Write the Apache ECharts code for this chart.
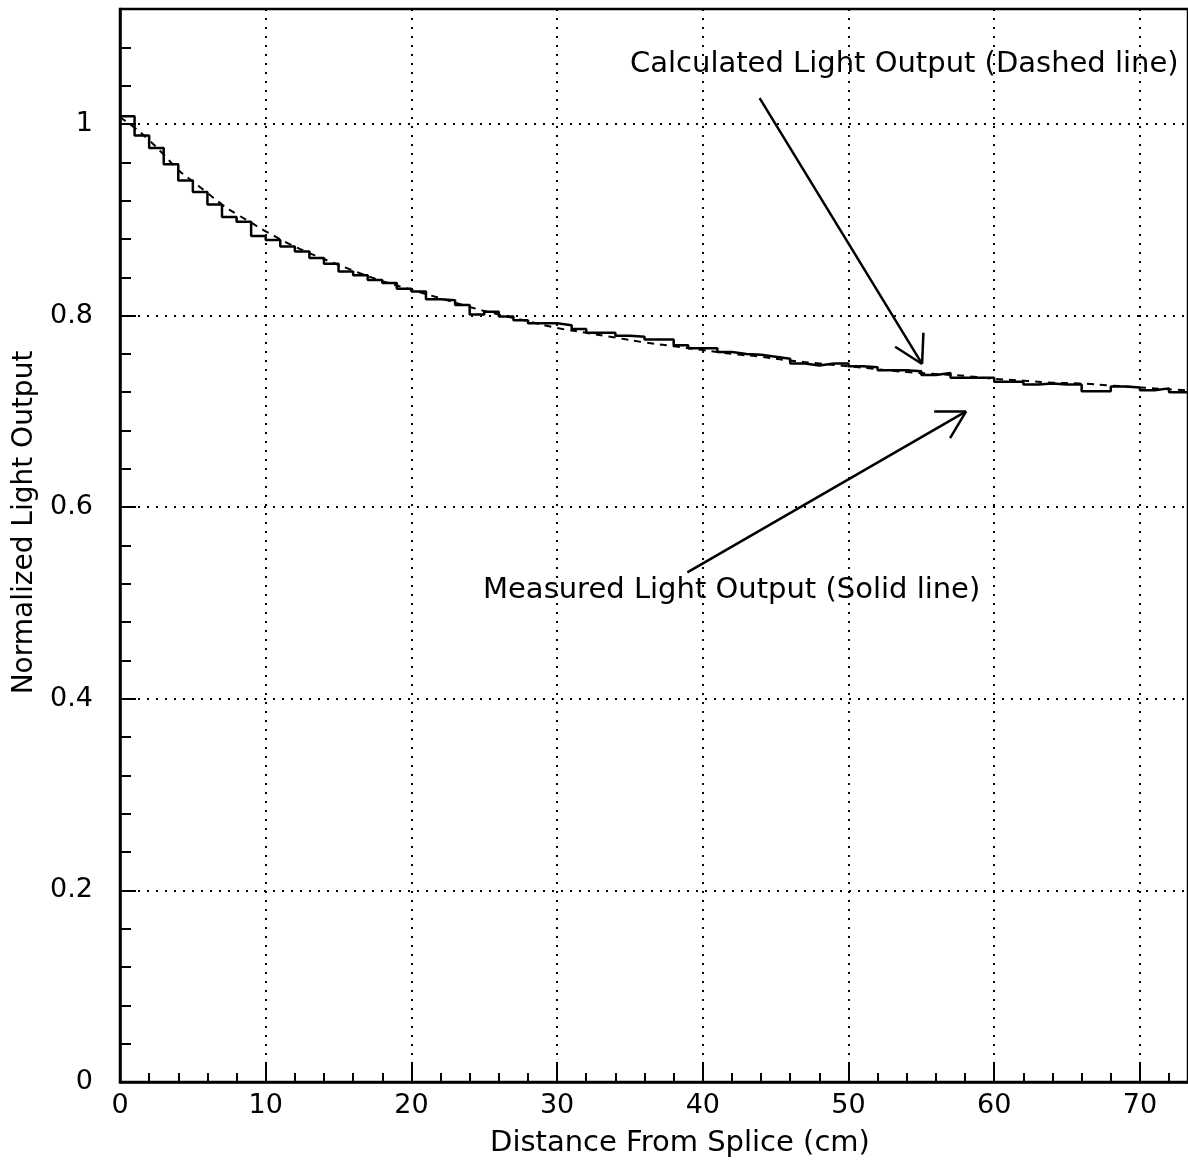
<!DOCTYPE html>
<html>
<head>
<meta charset="utf-8">
<script src="https://cdn.jsdelivr.net/npm/echarts@6.0.0/dist/echarts.min.js"></script>
<style>
  html, body { margin: 0; padding: 0; background: #fff; }
  #chart { width: 1188px; height: 1160px; }
</style>
</head>
<body>
<div id="chart"></div>
<script>
// measured light output, 1 cm bins starting at binStart[i]
var binStart = [];
for (var b = 0; b <= 73; b++) binStart.push(b);
var measured = [
  1.008, 0.988, 0.975, 0.958, 0.941, 0.929, 0.916, 0.903, 0.898, 0.883,
  0.879, 0.872, 0.867, 0.860, 0.854, 0.846, 0.842, 0.837, 0.834, 0.828,
  0.825, 0.817, 0.816, 0.811, 0.801, 0.804, 0.799, 0.795, 0.792, 0.792,
  0.790, 0.786, 0.782, 0.782, 0.779, 0.778, 0.775, 0.775, 0.769, 0.766,
  0.766, 0.762, 0.760, 0.759, 0.757, 0.755, 0.750, 0.748, 0.750, 0.750,
  0.747, 0.746, 0.743, 0.743, 0.742, 0.738, 0.740, 0.735, 0.735, 0.735,
  0.731, 0.731, 0.728, 0.729, 0.728, 0.728, 0.721, 0.721, 0.726, 0.725,
  0.722, 0.724, 0.720, 0.720
];

// calculated curve (dashed)
var calcX = [0, 1, 2, 3, 4, 5, 6, 7, 8, 9, 10, 12, 14, 16, 18, 20, 22, 24, 26, 28,
  30, 32, 34, 36, 38, 40, 42, 44, 46, 48, 50, 52, 54, 56, 58, 60, 62, 64, 66, 68,
  70, 72, 73.3];
var calcY = [1.007, 0.996, 0.983, 0.968, 0.952, 0.940, 0.928, 0.916, 0.906, 0.897,
  0.888, 0.872, 0.859, 0.847, 0.836, 0.827, 0.818, 0.809, 0.801, 0.794,
  0.787, 0.782, 0.777, 0.772, 0.768, 0.764, 0.760, 0.757, 0.753, 0.750,
  0.747, 0.744, 0.741, 0.739, 0.737, 0.734, 0.732, 0.730, 0.729, 0.727,
  0.725, 0.723, 0.722];

var xMax = 73.3;
var yMax = 1.12;

// annotation arrows in data units: [fromX, fromY, toX, toY]
var arrowCalc = [43.9, 1.027, 55.05, 0.7495];
var arrowCalcHead = [[53.2, 0.7675], [55.14, 0.782]];
var arrowMeas = [38.94, 0.532, 58.07, 0.700];
var arrowMeasHead = [[55.88, 0.700], [56.97, 0.672]];

var FONT = 'DejaVu Sans';

var stepData = binStart.map(function (x, i) { return [x, measured[i]]; });
stepData.push([xMax, measured[measured.length - 1]]);
var calcData = calcX.map(function (x, i) { return [x, calcY[i]]; });

function seg(a, b) {
  return [{ coord: a }, { coord: b }];
}
var arrowLines = [
  seg([arrowCalc[0], arrowCalc[1]], [arrowCalc[2], arrowCalc[3]]),
  seg([arrowCalc[2], arrowCalc[3]], arrowCalcHead[0]),
  seg([arrowCalc[2], arrowCalc[3]], arrowCalcHead[1]),
  seg([arrowMeas[0], arrowMeas[1]], [arrowMeas[2], arrowMeas[3]]),
  seg([arrowMeas[2], arrowMeas[3]], arrowMeasHead[0]),
  seg([arrowMeas[2], arrowMeas[3]], arrowMeasHead[1])
];

var chart = echarts.init(document.getElementById('chart'));
var option = {
  animation: false,
  backgroundColor: '#fff',
  textStyle: { fontFamily: FONT, color: '#000' },
  grid: {
    left: 120, right: 0, top: 9, bottom: 78,
    outerBoundsMode: 'none', containLabel: false,
    show: true, borderColor: '#000', borderWidth: 2.5, backgroundColor: 'transparent'
  },
  xAxis: [{
    type: 'value', position: 'bottom', min: 0, max: xMax, interval: 10,
    name: 'Distance From Splice (cm)', nameLocation: 'middle', nameGap: 47,
    nameTextStyle: { fontFamily: FONT, fontSize: 29, color: '#000', padding: [0, 0, 0, 52] },
    axisLine: { onZero: false, lineStyle: { color: '#000', width: 2.5 } },
    axisTick: { inside: true, length: 20, lineStyle: { color: '#000', width: 2 } },
    axisLabel: { fontFamily: FONT, fontSize: 27, color: '#000', margin: 10, showMaxLabel: false },
    splitLine: { show: true, lineStyle: { color: '#000', width: 2, type: [2, 7] } }
  }, {
    type: 'value', position: 'bottom', min: 0, max: xMax, interval: 2,
    axisLine: { show: false },
    axisTick: { inside: true, length: 9, lineStyle: { color: '#000', width: 2 } },
    axisLabel: { show: false },
    splitLine: { show: false }
  }],
  yAxis: [{
    type: 'value', position: 'left', min: 0, max: yMax, interval: 0.2,
    name: 'Normalized Light Output', nameLocation: 'middle', nameGap: 77,
    nameTextStyle: { fontFamily: FONT, fontSize: 28, color: '#000', padding: [0, 0, 0, 46] },
    axisLine: { onZero: false, lineStyle: { color: '#000', width: 2.5 } },
    axisTick: { inside: true, length: 16, lineStyle: { color: '#000', width: 2 } },
    axisLabel: {
      fontFamily: FONT, fontSize: 27, color: '#000', margin: 27, showMaxLabel: false,
      formatter: function (v) { return v === 0 ? '0' : String(Math.round(v * 10) / 10); }
    },
    splitLine: { show: true, lineStyle: { color: '#000', width: 2, type: [2, 7] } }
  }, {
    type: 'value', position: 'left', min: 0, max: yMax, interval: 0.04,
    axisLine: { show: false },
    axisTick: { inside: true, length: 11, lineStyle: { color: '#000', width: 2 } },
    axisLabel: { show: false },
    splitLine: { show: false }
  }],
  graphic: [{
    type: 'text', left: 630, top: 50,
    style: { text: 'Calculated Light Output (Dashed line)', font: '29px "DejaVu Sans"', fill: '#000' }
  }, {
    type: 'text', left: 483, top: 576,
    style: { text: 'Measured Light Output (Solid line)', font: '29px "DejaVu Sans"', fill: '#000' }
  }],
  series: [{
    name: 'Calculated', type: 'line', data: calcData, smooth: true,
    showSymbol: false, symbol: 'none', clip: true,
    lineStyle: { color: '#000', width: 2, type: [7, 6] }
  }, {
    name: 'Measured', type: 'line', data: stepData, step: 'end',
    showSymbol: false, symbol: 'none', clip: true,
    lineStyle: { color: '#000', width: 2.5 },
    markLine: {
      silent: true, symbol: ['none', 'none'], animation: false,
      label: { show: false },
      lineStyle: { color: '#000', width: 2.5, type: 'solid' },
      data: arrowLines
    }
  }]
};
chart.setOption(option);
</script>
</body>
</html>
